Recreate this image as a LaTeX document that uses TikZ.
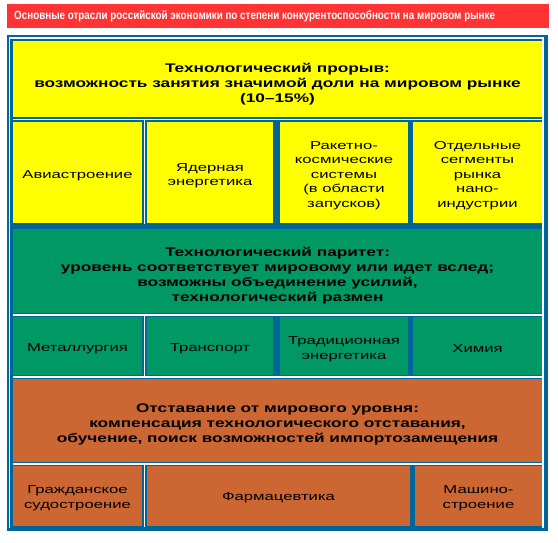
\documentclass[tikz,border=0pt]{standalone}
\usepackage{fontspec}
\usepackage{tikz}
\usetikzlibrary{fit,positioning}
\setmainfont{Liberation Sans}
\newfontfamily\headfont[FakeStretch=1.38]{Liberation Sans}
\newfontfamily\cellfont[FakeStretch=1.45]{Liberation Sans}
\newfontfamily\titlefont[FakeStretch=0.82]{Liberation Sans}
\definecolor{frameblue}{RGB}{0,102,153}
\definecolor{titlered}{RGB}{255,51,51}
\definecolor{lvlyellow}{RGB}{255,255,0}
\definecolor{lvlgreen}{RGB}{0,153,102}
\definecolor{lvlorange}{RGB}{204,102,51}

\begin{document}
\begin{tikzpicture}[x=1pt, y=-1pt,
    box/.style={inner sep=0, outer sep=0, align=center, text=black},
    headbox/.style={box, font=\headfont\bfseries\fontsize{12.5}{15}\selectfont},
    cellbox/.style={box, font=\cellfont\fontsize{11.5}{14.5}\selectfont},
    sepline/.style={white, line width=1.3pt}]
  \useasboundingbox (0,0) rectangle (558,543);
  % Title bar
  \node[box, fill=titlered, fit={(7,4) (549,28)}] (titlebar) {};
  \node[anchor=west, text=white, inner sep=0,
        font=\titlefont\bfseries\fontsize{12}{14}\selectfont]
        (titletext) at ([xshift=7pt]titlebar.west)
        {Основные отрасли российской экономики по степени конкурентоспособности на мировом рынке};
  % Blue frame with white inner line
  \fill[frameblue] (7,35) rectangle (548,531);
  \draw[sepline] (9.5,528) -- (9.5,38) -- (543,38) -- (543,528);
  % Breakthrough level (yellow)
  \node[box, fill=lvlyellow, fit={(13,41) (542,117)}] (hdrbreak) {};
  \node[box, fill=lvlyellow, fit={(13,122) (142,223)}] (avia) {};
  \node[box, fill=lvlyellow, fit={(147,122) (273,223)}] (nuclear) {};
  \node[box, fill=lvlyellow, fit={(280,122) (408,223)}] (rocket) {};
  \node[box, fill=lvlyellow, fit={(413,122) (542,223)}] (nano) {};
  \node[headbox] at ([yshift=-5pt]hdrbreak.center)
    {Технологический прорыв:\\возможность занятия значимой доли на мировом рынке\\(10–15\%)};
  \node[cellbox] at ([yshift=-3pt]avia.center) {Авиастроение};
  \node[cellbox] at ([yshift=-3pt]nuclear.center) {Ядерная\\энергетика};
  \node[cellbox] at ([yshift=-3pt]rocket.center)
    {Ракетно-\\космические\\системы\\(в области\\запусков)};
  \node[cellbox] at ([yshift=-3pt]nano.center)
    {Отдельные\\сегменты\\рынка\\нано-\\индустрии};
  % Parity level (green)
  \node[box, fill=lvlgreen, fit={(13,229) (542,313)}] (hdrparity) {};
  \node[box, fill=lvlgreen, fit={(13,317) (142,375)}] (metal) {};
  \node[box, fill=lvlgreen, fit={(147,317) (273,375)}] (transport) {};
  \node[box, fill=lvlgreen, fit={(280,317) (408,375)}] (energy) {};
  \node[box, fill=lvlgreen, fit={(413,317) (542,375)}] (chem) {};
  \node[headbox] at ([yshift=-5pt]hdrparity.center)
    {Технологический паритет:\\уровень соответствует мировому или идет вслед;\\возможны объединение усилий,\\технологический размен};
  \node[cellbox] at ([yshift=-3pt]metal.center) {Металлургия};
  \node[cellbox] at ([yshift=-3pt]transport.center) {Транспорт};
  \node[cellbox] at ([yshift=-3pt]energy.center) {Традиционная\\энергетика};
  \node[cellbox] at ([yshift=-3pt]chem.center) {Химия};
  % Lagging level (orange)
  \node[box, fill=lvlorange, fit={(13,379) (542,462)}] (hdrlag) {};
  \node[box, fill=lvlorange, fit={(13,466) (142,526)}] (ships) {};
  \node[box, fill=lvlorange, fit={(147,466) (410,526)}] (pharma) {};
  \node[box, fill=lvlorange, fit={(415,466) (542,526)}] (machine) {};
  \node[headbox] at ([yshift=-4pt]hdrlag.center)
    {Отставание от мирового уровня:\\компенсация технологического отставания,\\обучение, поиск возможностей импортозамещения};
  \node[cellbox] at ([yshift=-2pt]ships.center) {Гражданское\\судостроение};
  \node[cellbox] at ([yshift=-2pt]pharma.center) {Фармацевтика};
  \node[cellbox] at ([yshift=-2pt]machine.center) {Машино-\\строение};
  % White separator lines
  \foreach \y in {119.5,315,377,464}
    \draw[sepline] (13,\y) -- (543,\y);
  \draw[sepline] (144.5,120) -- (144.5,224);
  \draw[sepline] (144.5,316) -- (144.5,376);
  \draw[sepline] (144.5,465) -- (144.5,527);
\end{tikzpicture}
\end{document}
